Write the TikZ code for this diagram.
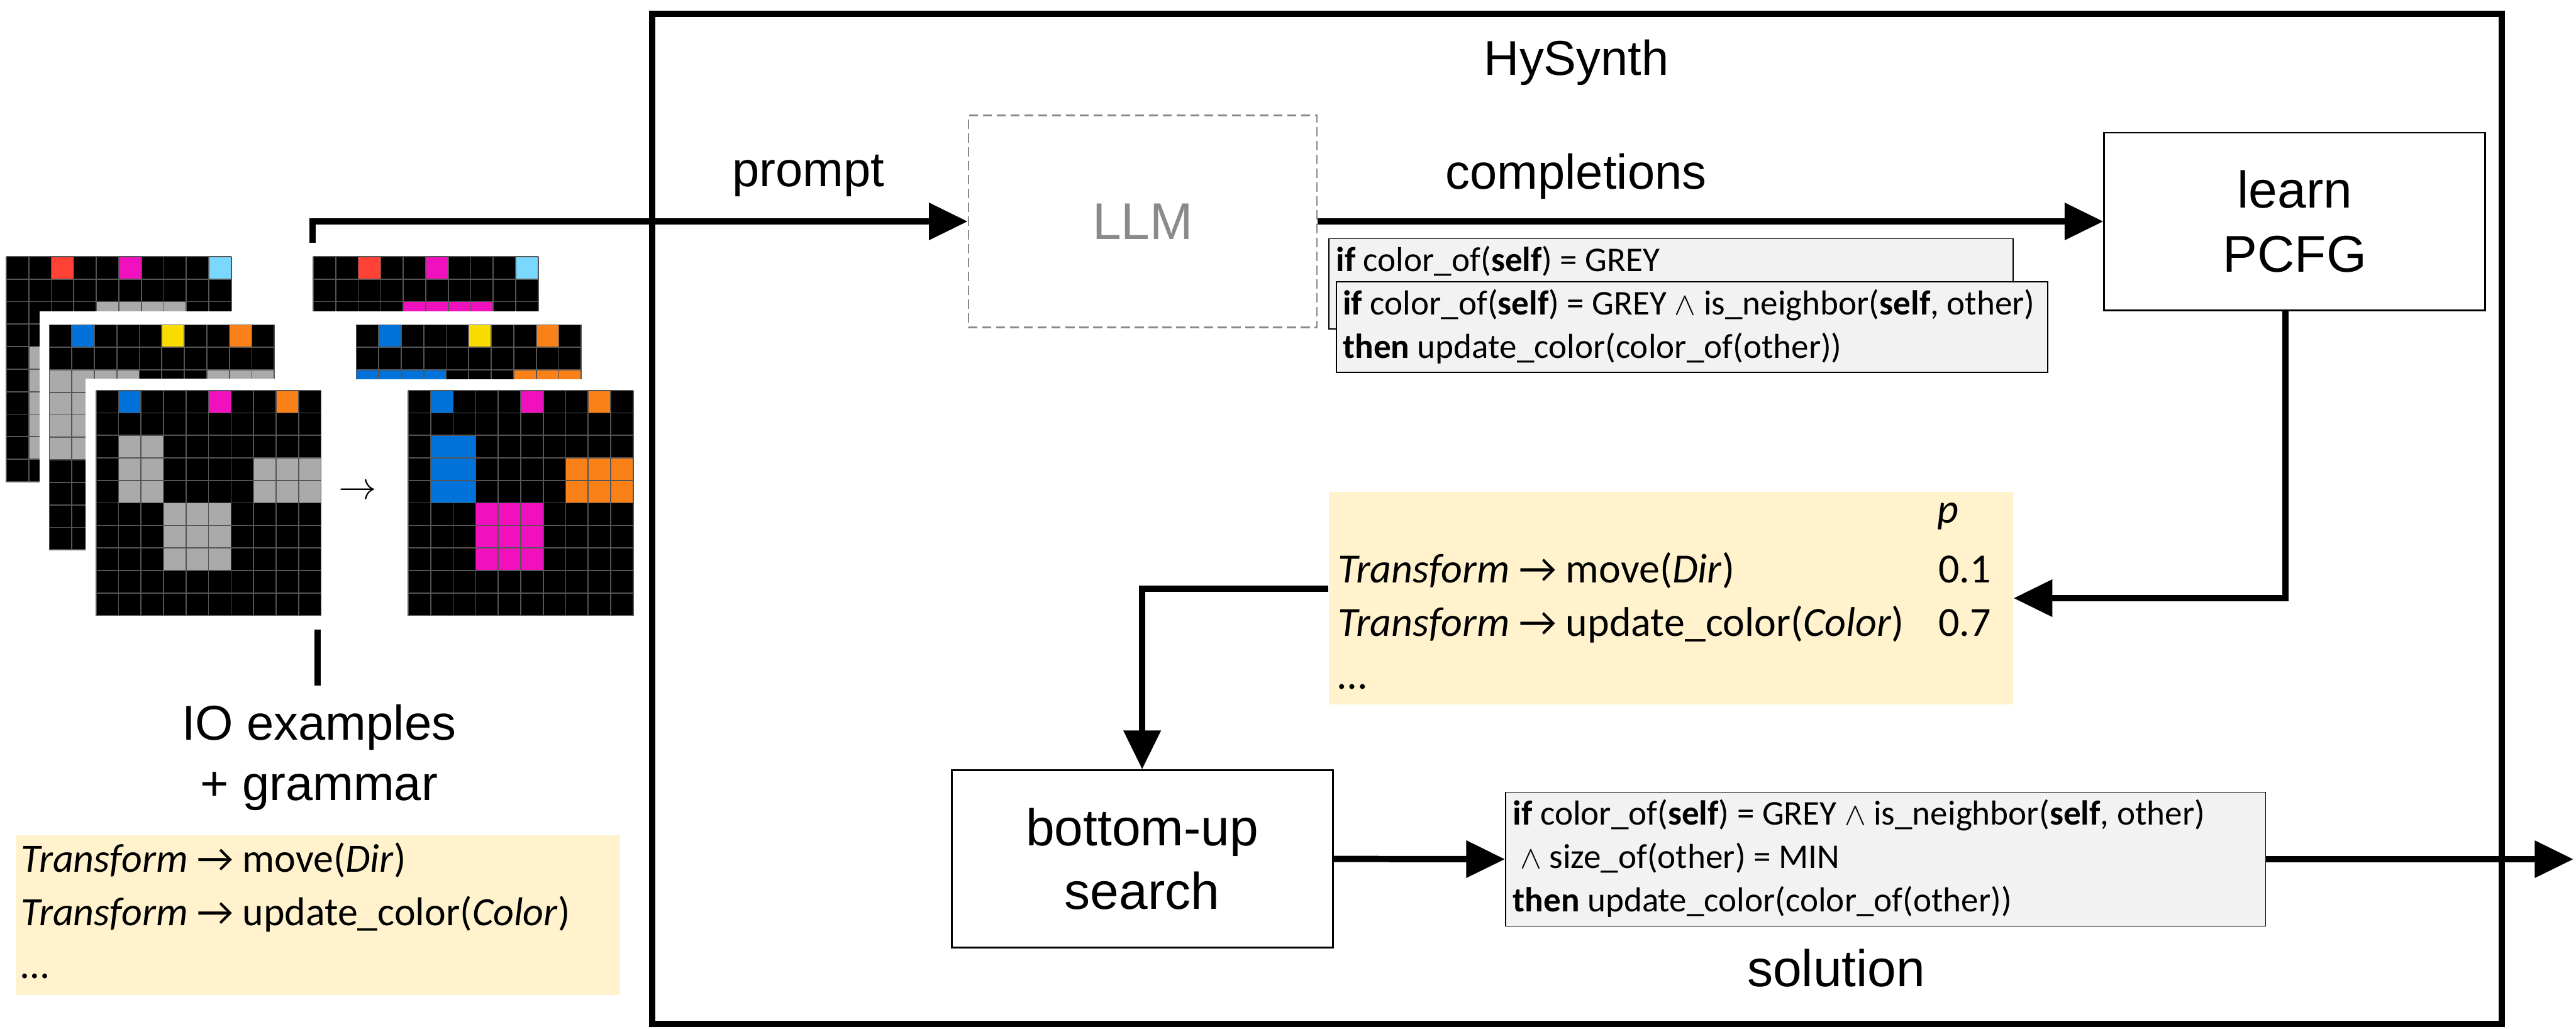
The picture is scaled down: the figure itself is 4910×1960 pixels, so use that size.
\documentclass[tikz,border=0pt]{standalone}
\usepackage{fontspec}
\setmainfont{Liberation Sans}
\newfontfamily\codefont{Carlito}
\usetikzlibrary{arrows.meta,calc}

% ARC palette
\definecolor{arcK}{HTML}{000000}
\definecolor{arcB}{HTML}{0072D9}
\definecolor{arcR}{HTML}{FF4136}
\definecolor{arcY}{HTML}{F9DC00}
\definecolor{arcG}{HTML}{AAAAAA}
\definecolor{arcM}{HTML}{F010BE}
\definecolor{arcO}{HTML}{F98118}
\definecolor{arcC}{HTML}{7AD8FF}
\definecolor{gridgrey}{HTML}{555555}
\definecolor{gramfill}{HTML}{FFF2CC}
\definecolor{codefill}{HTML}{F2F2F2}
\definecolor{llmgrey}{HTML}{8A8A8A}

% production arrow: the font's own glyph when it has one
\newcommand{\prodarrow}{\iffontchar\font"2192 \symbol{"2192}\else$\rightarrow$\fi}

\def\arccell{42.9}
% 10x10 grid: #1,#2 = top-left corner, #3 = list of rows
\newcommand{\arcgrid}[3]{%
  \foreach \rowcells [count=\r from 0] in {#3} {
    \foreach \cc [count=\c from 0] in \rowcells {
      \fill[arc\cc] ({#1+\c*\arccell},{#2+\r*\arccell}) rectangle ++(\arccell,\arccell);
    }
  }
  \foreach \k in {0,...,10} {
    \draw[gridln] ({#1+\k*\arccell},#2) -- ++(0,{10*\arccell});
    \draw[gridln] (#1,{#2+\k*\arccell}) -- ++({10*\arccell},0);
  }
}

\tikzset{
  gridln/.style={draw=gridgrey, line width=0.6pt},
  lbl/.style={font=\fontsize{26.5}{32}\selectfont, inner sep=0, anchor=base},
  boxlbl/.style={font=\fontsize{28}{34.5}\selectfont, align=center, inner sep=0},
  procbox/.style={draw, line width=1pt, minimum width=7.26cm, minimum height=3.38cm, boxlbl},
  codebox/.style={draw, line width=0.6pt, fill=codefill, inner sep=0},
  grambox/.style={fill=gramfill, inner sep=0},
  code/.style={font=\codefont\fontsize{18.8}{22}\selectfont, inner sep=0, anchor=base west},
  gramtxt/.style={font=\codefont\fontsize{22.5}{27}\selectfont, inner sep=0, anchor=base west},
  iogramtxt/.style={font=\codefont\fontsize{21.8}{26}\selectfont, inner sep=0, anchor=base west},
  thickln/.style={line width=3.4pt, line join=miter},
  flow/.style={thickln, -{Triangle[length=21pt,width=19.5pt]}},
}

\begin{document}
\begin{tikzpicture}[x=0.01cm,y=-0.01cm]
\useasboundingbox (0,0) rectangle (4910,1960);

% ---------- input examples (stacked cards) ----------
\arcgrid{12}{489}{{K,K,R,K,K,M,K,K,K,C},{K,K,K,K,K,K,K,K,K,K},{K,K,K,K,G,G,G,G,K,K},{K,K,K,K,K,K,K,K,K,K},{K,G,K,K,K,K,K,K,K,K},{K,G,K,K,K,K,K,K,K,K},{K,G,K,K,K,K,K,K,K,K},{K,G,K,K,K,K,K,K,K,K},{K,G,K,K,K,K,K,K,K,K},{K,K,K,K,K,K,K,K,K,K}}
\fill[white] (75,593) rectangle (560,1066);
\arcgrid{94}{619}{{K,B,K,K,K,Y,K,K,O,K},{K,K,K,K,K,K,K,K,K,K},{G,G,G,G,K,K,K,G,G,G},{G,G,K,K,K,K,K,K,K,K},{G,G,K,K,K,K,K,K,K,K},{G,G,K,K,K,K,K,K,K,K},{K,K,K,K,K,K,K,K,K,K},{K,K,K,K,K,K,K,K,K,K},{K,K,K,K,K,K,K,K,K,K},{K,K,K,K,K,K,K,K,K,K}}
\fill[white] (163,722) rectangle (640,1195);
\arcgrid{183}{744}{{K,B,K,K,K,M,K,K,O,K},{K,K,K,K,K,K,K,K,K,K},{K,G,G,K,K,K,K,K,K,K},{K,G,G,K,K,K,K,G,G,G},{K,G,G,K,K,K,K,G,G,G},{K,K,K,G,G,G,K,K,K,K},{K,K,K,G,G,G,K,K,K,K},{K,K,K,G,G,G,K,K,K,K},{K,K,K,K,K,K,K,K,K,K},{K,K,K,K,K,K,K,K,K,K}}

% ---------- output examples ----------
\begin{scope}
  \clip (590,480) rectangle (1100,593);
  \arcgrid{597}{489}{{K,K,R,K,K,M,K,K,K,C},{K,K,K,K,K,K,K,K,K,K},{K,K,K,K,M,M,M,M,K,K},{K,K,K,K,K,K,K,K,K,K}}
\end{scope}
\begin{scope}
  \clip (670,610) rectangle (1120,722);
  \arcgrid{679}{619}{{K,B,K,K,K,Y,K,K,O,K},{K,K,K,K,K,K,K,K,K,K},{B,B,B,B,K,K,K,O,O,O},{K,K,K,K,K,K,K,K,K,K}}
\end{scope}
\arcgrid{778}{744}{{K,B,K,K,K,M,K,K,O,K},{K,K,K,K,K,K,K,K,K,K},{K,B,B,K,K,K,K,K,K,K},{K,B,B,K,K,K,K,O,O,O},{K,B,B,K,K,K,K,O,O,O},{K,K,K,M,M,M,K,K,K,K},{K,K,K,M,M,M,K,K,K,K},{K,K,K,M,M,M,K,K,K,K},{K,K,K,K,K,K,K,K,K,K},{K,K,K,K,K,K,K,K,K,K}}

\node[font=\fontsize{20}{20}\selectfont, inner sep=0] (ioarrow) at (682,938) {$\rightarrow$};

% ---------- IO examples label and grammar ----------
\coordinate (iotop) at (596,463);
\coordinate (iobotA) at (605,1200);
\coordinate (iobotB) at (605,1307);
\draw[thickln] (iobotA) -- (iobotB);
\node[lbl] (iolabA) at (608,1410) {IO examples};
\node[lbl] (iolabB) at (608,1525) {+ grammar};

\node[grambox, minimum width=11.52cm, minimum height=3.04cm] (iogram) at (606,1744) {};
\node[iogramtxt] (iogramA) at (40,1662) {\textit{Transform} \prodarrow{} move(\textit{Dir})};
\node[iogramtxt] (iogramB) at (40,1764) {\textit{Transform} \prodarrow{} update\_color(\textit{Color})};
\node[iogramtxt] (iogramC) at (40,1865) {…};

% ---------- HySynth frame ----------
\node[draw, line width=3.4pt, minimum width=35.23cm, minimum height=19.24cm, inner sep=0] (hysynth) at (3005.5,989) {};
\node[lbl] (hytitle) at (3005,143) {HySynth};

% LLM
\node[draw=llmgrey, dash pattern=on 5pt off 2.5pt, line width=0.8pt, minimum width=6.64cm, minimum height=4.04cm,
      boxlbl, text=llmgrey] (llm) at (2178,422) {LLM};
\node[lbl] (promptlab) at (1541,356) {prompt};
\node[lbl] (complab) at (3004,360) {completions};

% learn PCFG
\node[procbox] (pcfg) at (4374,422) {learn\\PCFG};

% sampled completions
\node[codebox, minimum width=13.04cm, minimum height=1.72cm] (candA) at (3185,541) {};
\node[code] (candAtxt) at (2546,517) {\textbf{if} color\_of(\textbf{self}) = GREY};
\node[codebox, minimum width=13.55cm, minimum height=1.73cm] (candB) at (3225.5,623.5) {};
\node[code] (candBtxtA) at (2559,600) {\textbf{if} color\_of(\textbf{self}) = GREY $\wedge$ is\_neighbor(\textbf{self}, other)};
\node[code] (candBtxtB) at (2559,683) {\textbf{then} update\_color(color\_of(other))};

% learned PCFG
\node[grambox, minimum width=13.04cm, minimum height=4.06cm] (gram) at (3185,1140) {};
\node[gramtxt] (gramP) at (3692,997) {\textit{p}};
\node[gramtxt] (gramA) at (2549,1111) {\textit{Transform} \prodarrow{} move(\textit{Dir})};
\node[gramtxt] (gramAp) at (3694,1111) {0.1};
\node[gramtxt] (gramB) at (2549,1212) {\textit{Transform} \prodarrow{} update\_color(\textit{Color})};
\node[gramtxt] (gramBp) at (3694,1212) {0.7};
\node[gramtxt] (gramC) at (2549,1313) {…};

% bottom-up search
\node[procbox] (search) at (2177,1637) {bottom-up\\search};

% solution
\node[codebox, minimum width=14.48cm, minimum height=2.55cm] (sol) at (3594,1637.5) {};
\node[code] (solA) at (2883,1572) {\textbf{if} color\_of(\textbf{self}) = GREY $\wedge$ is\_neighbor(\textbf{self}, other)};
\node[code] (solB) at (2897,1655) {$\wedge$ size\_of(other) = MIN};
\node[code] (solC) at (2883,1738) {\textbf{then} update\_color(color\_of(other))};
\node[lbl, font=\fontsize{28}{34}\selectfont] (sollab) at (3500,1880) {solution};
\coordinate (outend) at (4905,1637.5);

% ---------- connectors ----------
\draw[flow] (iotop) |- (llm.west);
\draw[flow] (llm.east) -- (pcfg.west);
\draw[flow] ($(pcfg.south)+(-18,0)$) |- (gram.east);
\draw[flow] ($(gram.west)+(0,-18)$) -| (search.north);
\draw[flow] (search.east) -- (sol.west);
\draw[flow] (sol.east) -- (outend);
\end{tikzpicture}
\end{document}
